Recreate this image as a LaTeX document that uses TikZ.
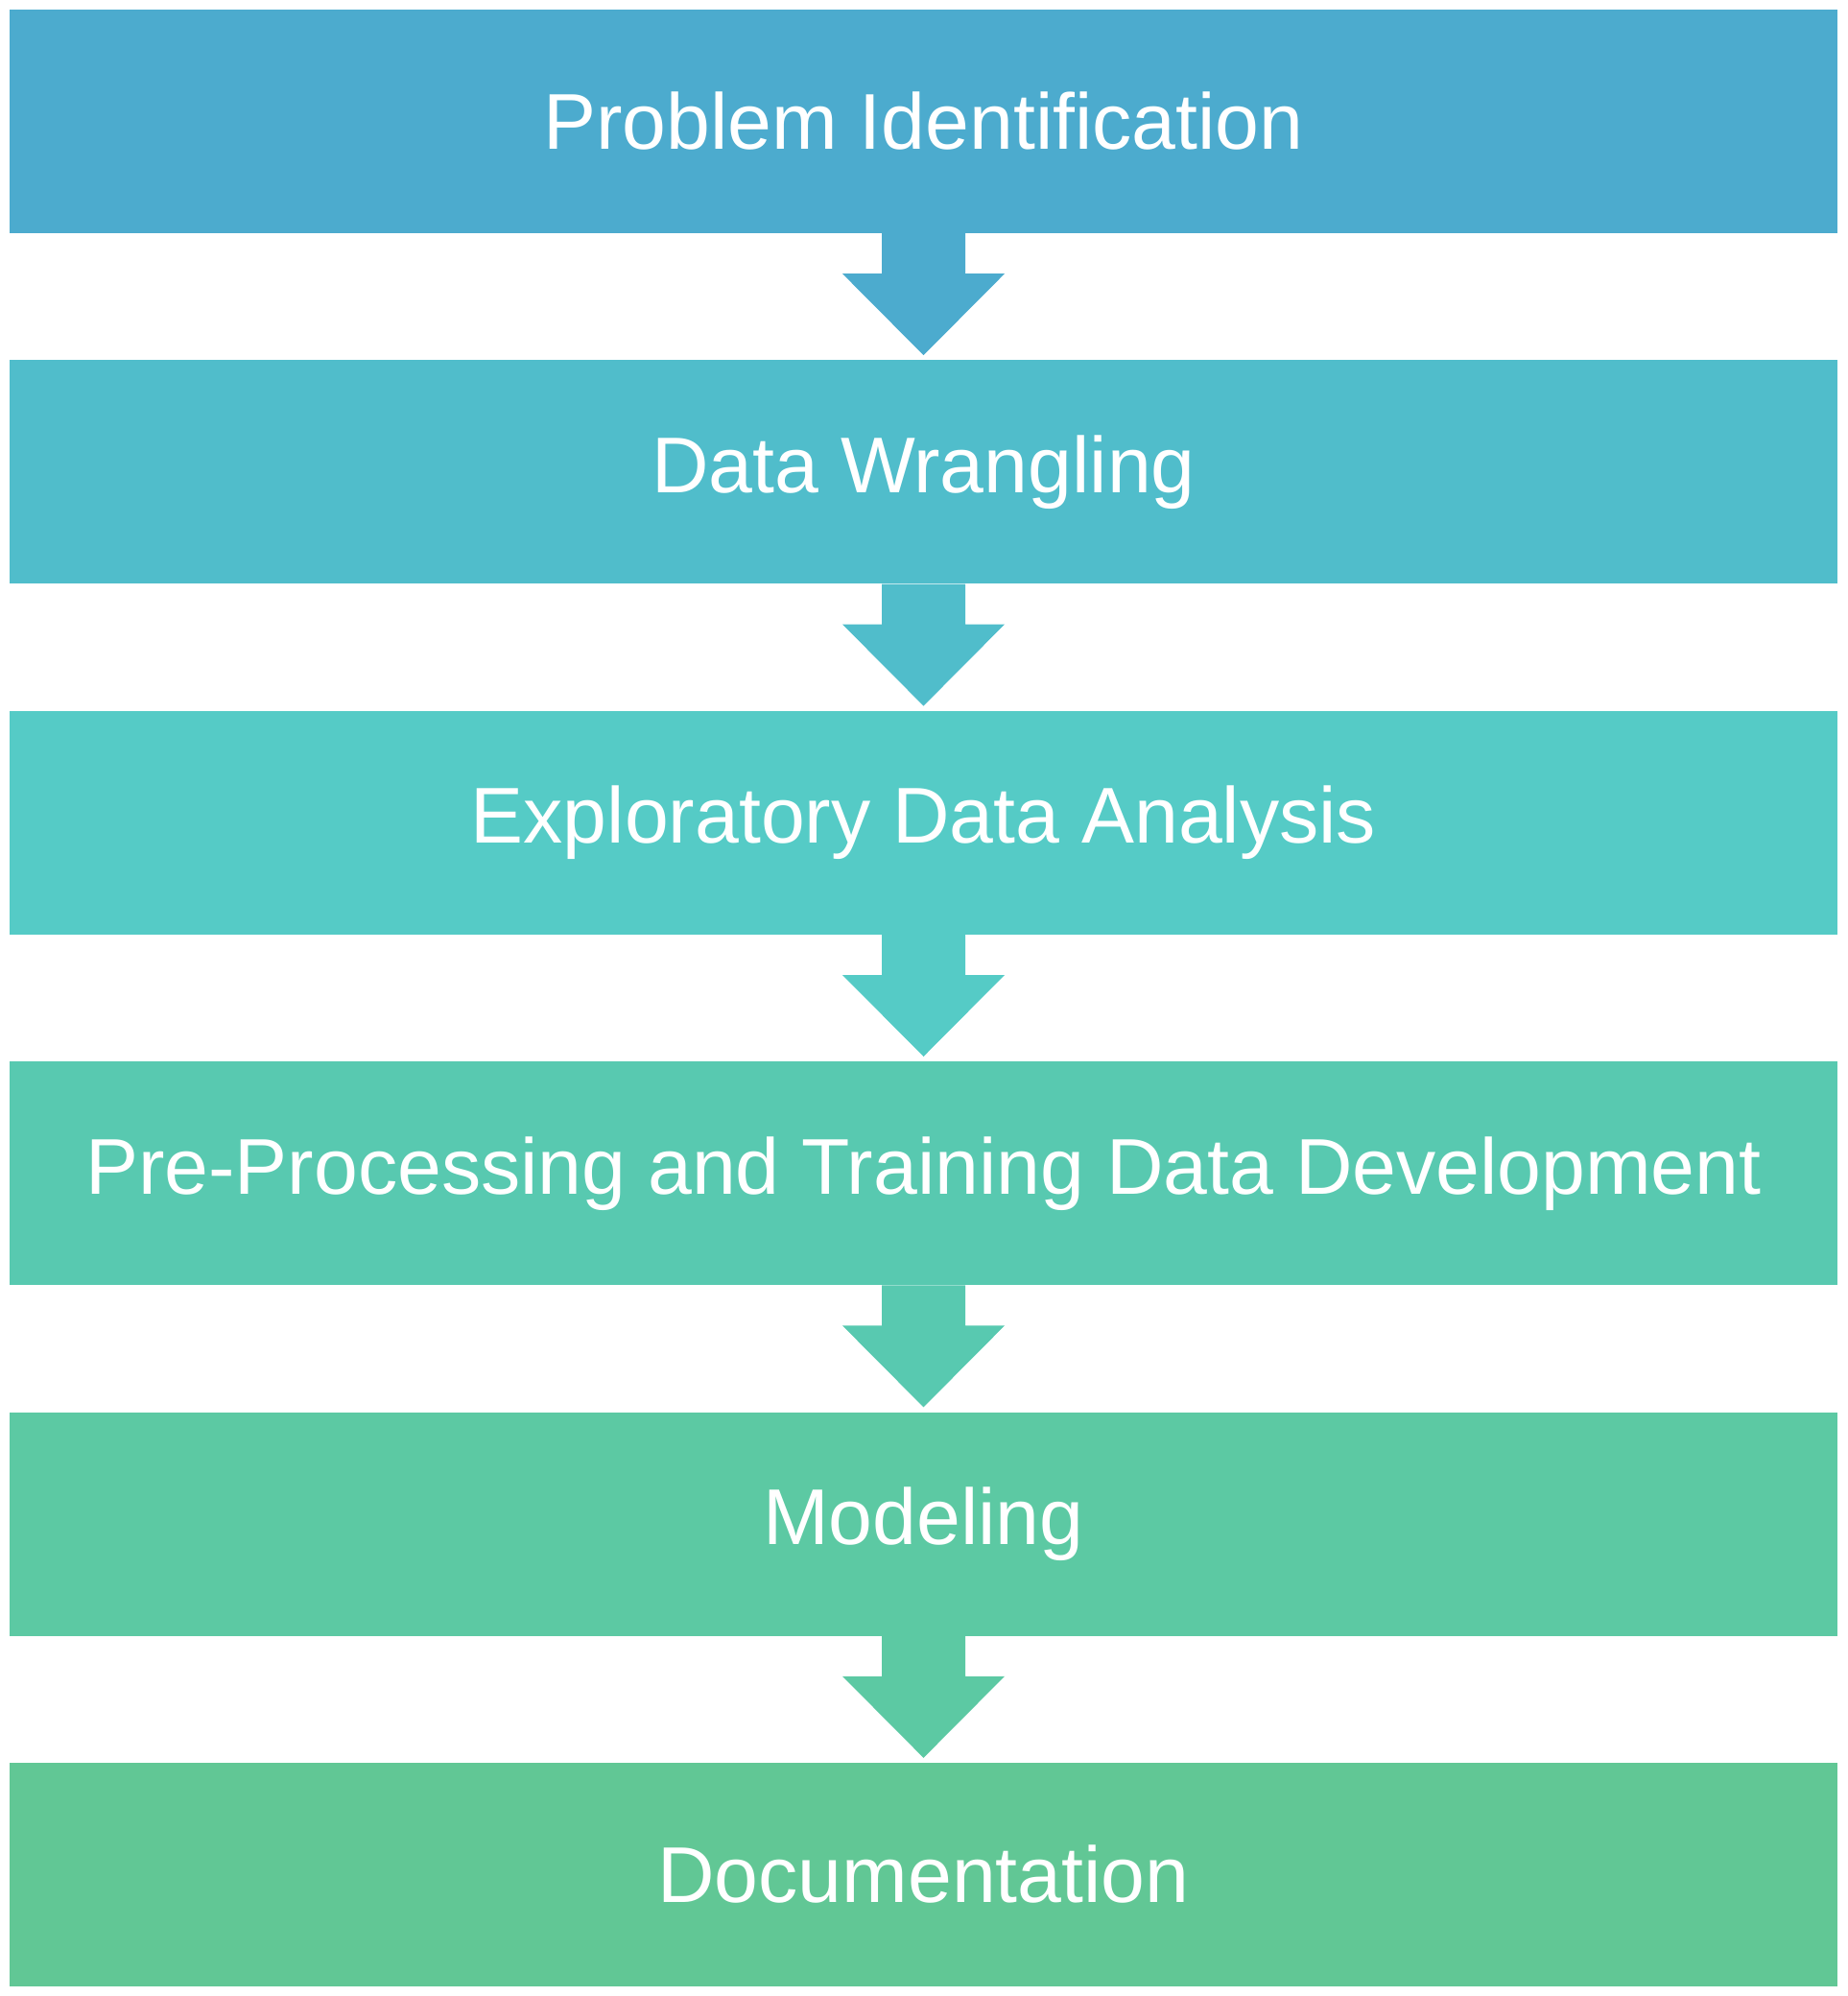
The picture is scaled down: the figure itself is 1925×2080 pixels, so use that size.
\documentclass[tikz,border=0pt]{standalone}
\usepackage{fontspec}
\setmainfont{Liberation Sans}
\usetikzlibrary{positioning,calc}
\definecolor{stageA}{HTML}{4CABCE}
\definecolor{stageB}{HTML}{50BDCB}
\definecolor{stageC}{HTML}{55CBC6}
\definecolor{stageD}{HTML}{58C9B0}
\definecolor{stageE}{HTML}{5CC9A3}
\definecolor{stageF}{HTML}{61C795}
\tikzset{stagebox/.style={fill=#1,minimum width=1905pt,minimum height=233pt,inner sep=0pt,text=white,font=\fontsize{82.4}{96}\selectfont},
node distance=132pt}
% block arrow hanging under a stage box
\newcommand{\stagearrow}[2]{\fill[#2] ($(#1.south)+(-43.5pt,0)$) -- ++(0,-42pt) -- ++(-41pt,0) -- ($(#1.south)+(0,-127pt)$) -- ($(#1.south)+(84.5pt,-42pt)$) -- ++(-41pt,0) -- ($(#1.south)+(43.5pt,0)$) -- cycle;}

\begin{document}
\begin{tikzpicture}[x=1pt,y=1pt]
\useasboundingbox (0,0) rectangle (1925,-2080);
\node[stagebox=stageA] (problem) at (962.5,-126.5) {Problem Identification};
\node[stagebox=stageB,below=of problem] (wrangle) {Data Wrangling};
\node[stagebox=stageC,below=of wrangle] (eda) {Exploratory Data Analysis};
\node[stagebox=stageD,below=of eda] (prep) {Pre-Processing and Training Data Development};
\node[stagebox=stageE,below=of prep] (model) {Modeling};
\node[stagebox=stageF,below=of model] (docs) {Documentation};
\stagearrow{problem}{stageA}
\stagearrow{wrangle}{stageB}
\stagearrow{eda}{stageC}
\stagearrow{prep}{stageD}
\stagearrow{model}{stageE}
\end{tikzpicture}
\end{document}
